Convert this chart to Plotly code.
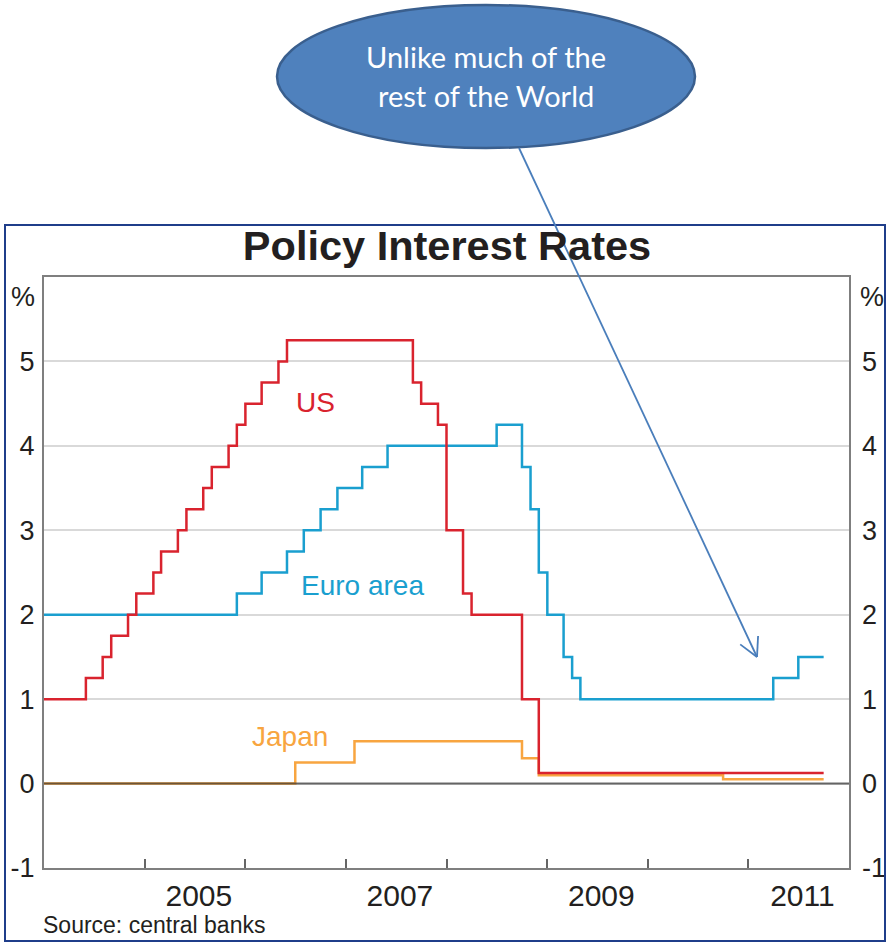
import math
import plotly.graph_objects as go

# ---------------- data (step changes, month-end rates plotted at month start) ----------------
us_dates = ["2004-01-01", "2004-06-01", "2004-08-01", "2004-09-01", "2004-11-01", "2004-12-01",
            "2005-02-01", "2005-03-01", "2005-05-01", "2005-06-01", "2005-08-01", "2005-09-01",
            "2005-11-01", "2005-12-01", "2006-01-01", "2006-03-01", "2006-05-01", "2006-06-01",
            "2007-09-01", "2007-10-01", "2007-12-01", "2008-01-01", "2008-03-01", "2008-04-01",
            "2008-10-01", "2008-12-01", "2011-10-01"]
us_rates = [1.00, 1.25, 1.50, 1.75, 2.00, 2.25,
            2.50, 2.75, 3.00, 3.25, 3.50, 3.75,
            4.00, 4.25, 4.50, 4.75, 5.00, 5.25,
            4.75, 4.50, 4.25, 3.00, 2.25, 2.00,
            1.00, 0.125, 0.125]

euro_dates = ["2004-01-01", "2005-12-01", "2006-03-01", "2006-06-01", "2006-08-01", "2006-10-01",
              "2006-12-01", "2007-03-01", "2007-06-01", "2008-07-01", "2008-10-01", "2008-11-01",
              "2008-12-01", "2009-01-01", "2009-03-01", "2009-04-01", "2009-05-01", "2011-04-01",
              "2011-07-01", "2011-10-01"]
euro_rates = [2.00, 2.25, 2.50, 2.75, 3.00, 3.25,
              3.50, 3.75, 4.00, 4.25, 3.75, 3.25,
              2.50, 2.00, 1.50, 1.25, 1.00, 1.25,
              1.50, 1.50]

japan_dates = ["2004-01-01", "2006-07-01", "2007-02-01", "2008-10-01", "2008-12-01",
               "2010-10-01", "2011-10-01"]
japan_rates = [0.00, 0.25, 0.50, 0.30, 0.10, 0.05, 0.05]

y_ticks = [-1, 0, 1, 2, 3, 4, 5]
year_ticks = [f"{y}-01-01" for y in range(2005, 2012)]
label_years = ["2005", "2007", "2009", "2011"]
label_pos = [f"{y}-07-16" for y in label_years]

title_text = "Policy Interest Rates"
source_text = "Source: central banks"
callout_lines = ["Unlike much of the", "rest of the World"]

# ---------------- styling ----------------
W, H = 887, 942
L, R, T, B = 44, 849, 277, 868
RED, TEAL, ORANGE = "#d9232e", "#1a9fcf", "#f8a540"
FONT = "Liberation Sans"
TXT = "#231f20"


def px_x(px):
    return (px - L) / (R - L)


def px_y(py):
    return (B - py) / (B - T)


fig = go.Figure()
fig.add_trace(go.Scatter(x=japan_dates, y=japan_rates, mode="lines",
                         line=dict(color=ORANGE, width=2.5, shape="hv"), showlegend=False))
fig.add_trace(go.Scatter(x=euro_dates, y=euro_rates, mode="lines",
                         line=dict(color=TEAL, width=2.5, shape="hv"), showlegend=False))
fig.add_trace(go.Scatter(x=us_dates, y=us_rates, mode="lines",
                         line=dict(color=RED, width=2.5, shape="hv"), showlegend=False))
# empty trace to register the right-hand mirrored axis
fig.add_trace(go.Scatter(x=[], y=[], yaxis="y2", showlegend=False, hoverinfo="skip"))

fig.update_layout(
    width=W, height=H,
    margin=dict(l=L, r=W - R, t=T, b=H - B, pad=0, autoexpand=False),
    paper_bgcolor="white", plot_bgcolor="white",
    font=dict(family=FONT, color=TXT),
    title=dict(text=f"<b>{title_text}</b>", font=dict(family=FONT, size=41.5, color=TXT),
               x=px_x(447), xref="paper", xanchor="center", automargin=False,
               y=1 - 245 / H, yref="container", yanchor="middle"),
    xaxis=dict(type="date", range=["2004-01-01", "2012-01-01"], automargin=False,
               showgrid=False, zeroline=False,
               showline=True, linecolor="#7f7f7f", linewidth=2, mirror=True,
               tickmode="array", tickvals=label_pos, ticktext=label_years, ticks="",
               tickfont=dict(size=30, color=TXT, family=FONT),
               minor=dict(tickmode="array", tickvals=year_ticks, ticks="inside", ticklen=9,
                          tickwidth=1.5, tickcolor="#666666", showgrid=False)),
    yaxis=dict(range=[-1, 6], tickmode="array", tickvals=y_ticks, automargin=False,
               ticktext=[str(v) for v in y_ticks],
               showgrid=True, gridcolor="#d9d9d9", gridwidth=1.5, zeroline=False,
               showline=True, linecolor="#7f7f7f", linewidth=2, mirror=True,
               ticks="", ticklabelstandoff=2,
               tickfont=dict(size=27, color=TXT, family=FONT)),
    yaxis2=dict(range=[-1, 6], overlaying="y", side="right", anchor="x", automargin=False,
                tickmode="array", tickvals=y_ticks, ticktext=[str(v) for v in y_ticks],
                showgrid=False, zeroline=False, showline=False, ticks="",
                ticklabelstandoff=12,
                tickfont=dict(size=27, color=TXT, family=FONT)),
)

shapes = []
# zero reference line drawn above the series
shapes.append(dict(type="line", xref="paper", yref="y", x0=0, x1=1, y0=0, y1=0,
                   line=dict(color="rgba(50,50,50,0.7)", width=2), layer="above"))
# outer frame of chart
shapes.append(dict(type="rect", xref="paper", yref="paper",
                   x0=px_x(5), x1=px_x(885), y0=px_y(941), y1=px_y(225),
                   line=dict(color="#1f3d8a", width=2), fillcolor="rgba(0,0,0,0)", layer="above"))
# callout ellipse
shapes.append(dict(type="circle", xref="paper", yref="paper",
                   x0=px_x(277), x1=px_x(695), y0=px_y(148), y1=px_y(5),
                   line=dict(color="#3a5f8e", width=2.5), fillcolor="#4f81bd", layer="above"))
# callout arrow
x0p, y0p, x1p, y1p = 519, 148, 757, 657
shapes.append(dict(type="line", xref="paper", yref="paper",
                   x0=px_x(x0p), y0=px_y(y0p), x1=px_x(x1p), y1=px_y(y1p),
                   line=dict(color="#4a7ebb", width=1.8), layer="above"))
ang = math.atan2(y0p - y1p, x0p - x1p)
for d in (28, -28):
    a = ang + math.radians(d)
    wx, wy = x1p + 21 * math.cos(a), y1p + 21 * math.sin(a)
    shapes.append(dict(type="line", xref="paper", yref="paper",
                       x0=px_x(x1p), y0=px_y(y1p), x1=px_x(wx), y1=px_y(wy),
                       line=dict(color="#4a7ebb", width=1.8), layer="above"))
fig.update_layout(shapes=shapes)

ann = []
for xp in (22.5, 872):
    ann.append(dict(text="%", xref="paper", yref="paper", x=px_x(xp), y=px_y(297),
                    xanchor="center", yanchor="middle", showarrow=False,
                    font=dict(size=27, color=TXT, family=FONT)))
ann.append(dict(text=source_text, xref="paper", yref="paper", x=px_x(41), y=px_y(925),
                xanchor="left", yanchor="middle", showarrow=False,
                font=dict(size=23, color=TXT, family=FONT)))
ann.append(dict(text="US", xref="x", yref="y", x="2006-09-13", y=4.51,
                xanchor="center", yanchor="middle", showarrow=False,
                font=dict(size=28, color=RED, family=FONT)))
ann.append(dict(text="Euro area", xref="x", yref="y", x="2007-03-01", y=2.35,
                xanchor="center", yanchor="middle", showarrow=False,
                font=dict(size=28, color=TEAL, family=FONT)))
ann.append(dict(text="Japan", xref="x", yref="y", x="2006-06-13", y=0.56,
                xanchor="center", yanchor="middle", showarrow=False,
                font=dict(size=28, color=ORANGE, family=FONT)))
for line_text, yc in zip(callout_lines, (57, 95)):
    ann.append(dict(text=line_text, xref="paper", yref="paper", x=px_x(486), y=px_y(yc),
                    xanchor="center", yanchor="middle", showarrow=False,
                    font=dict(size=29, color="white", family="Lato")))
fig.update_layout(annotations=ann)

fig.write_html("out.html")
